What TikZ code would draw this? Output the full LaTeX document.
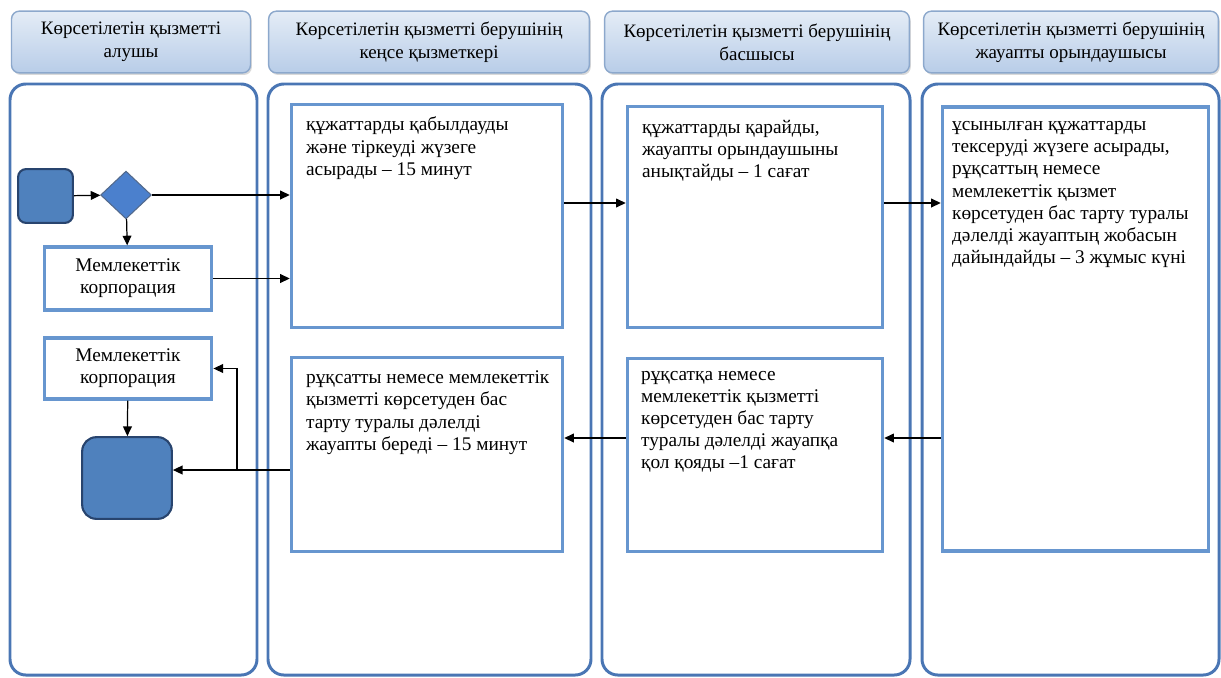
\documentclass[tikz,border=0pt]{standalone}
\usepackage{fontspec}
\setmainfont{Liberation Serif}
\usetikzlibrary{arrows.meta,shapes.geometric,shadows}

\definecolor{lanecol}{RGB}{74,118,180}
\definecolor{boxcol}{RGB}{103,150,207}
\definecolor{hdrtop}{RGB}{228,236,246}
\definecolor{hdrbot}{RGB}{184,205,232}
\definecolor{hdrline}{RGB}{140,168,204}
\definecolor{termfill}{RGB}{79,129,189}
\definecolor{termline}{RGB}{40,68,110}
\definecolor{gatefill}{RGB}{75,128,205}

\newcommand\pxu{0.5669pt}

\tikzset{
    sz/.style 2 args={minimum width=#1*\pxu,minimum height=#2*\pxu},
    hdr/.style={draw=hdrline,line width=.8pt,rounded corners=4.5pt,
        top color=hdrtop,bottom color=hdrbot,align=center,inner sep=0pt,
        font=\fontsize{10.8}{13}\selectfont,
        drop shadow={shadow xshift=.8pt,shadow yshift=-1.2pt,opacity=.3}},
    lane/.style={draw=lanecol,line width=1.7pt,rounded corners=9pt},
    procbox/.style={draw=boxcol,line width=2pt,fill=white,inner sep=0pt,align=center},
    proctext/.style={anchor=north west,align=left,inner sep=0pt},
    term/.style={draw=termline,line width=1.2pt,fill=termfill,inner sep=0pt},
    gate/.style={diamond,aspect=1.06,draw=termline!80,line width=.6pt,
        fill=gatefill,inner sep=0pt},
    flow/.style={-{Triangle[length=5.5pt,width=5pt]},line width=.7pt,black},
}

\begin{document}
\begin{tikzpicture}[x=0.02cm,y=-0.02cm,font=\fontsize{11}{12.6}\selectfont]
    \useasboundingbox (0,0) rectangle (1221,677);

    % headers
    \node[hdr,sz={240}{62}] (h1) at (131,42) {Көрсетілетін қызметті\\алушы};
    \node[hdr,sz={322}{62}] (h2) at (429,42) {Көрсетілетін қызметті берушінің\\кеңсе қызметкері};
    \node[hdr,sz={306}{62}] (h3) at (757,42) {Көрсетілетін қызметті берушінің\\басшысы};
    \node[hdr,sz={296}{62}] (h4) at (1071,42) {Көрсетілетін қызметті берушінің\\жауапты орындаушысы};

    % lanes
    \draw[lane] (10,84) rectangle (257,675);
    \draw[lane] (268,84) rectangle (591,675);
    \draw[lane] (602,84) rectangle (910,675);
    \draw[lane] (922,84) rectangle (1219,675);

    % left lane
    \node[term,rounded corners=4.5pt,sz={55}{54}] (start) at (45.5,196) {};
    \node[gate,sz={51}{48}] (gate) at (126,195) {};
    \node[procbox,sz={168}{63}] (mk1) at (128,278.5) {Мемлекеттік\\корпорация};
    \node[procbox,sz={168}{61}] (mk2) at (128,368.5) {Мемлекеттік\\корпорация};
    \node[term,rounded corners=8pt,sz={90}{82}] (finish) at (127,478) {};

    % process boxes
    \node[procbox,sz={272}{224}] (b1) at (427,216) {};
    \node[procbox,sz={256}{222}] (b2) at (755,217) {};
    \node[procbox,sz={267}{446}] (b3) at (1075.5,329) {};
    \node[procbox,sz={256}{194}] (b4) at (755,455) {};
    \node[procbox,sz={272}{195}] (b5) at (427,454.5) {};

    \node[proctext] (t1) at ([shift={(16,14)}]b1.north west)
        {құжаттарды қабылдауды\\және тіркеуді жүзеге\\асырады – 15 минут};
    \node[proctext] (t2) at ([shift={(16,15)}]b2.north west)
        {құжаттарды қарайды,\\жауапты орындаушыны\\анықтайды – 1 сағат};
    \node[proctext] (t3) at ([shift={(11,16)}]b3.north west)
        {ұсынылған құжаттарды\\тексеруді жүзеге асырады,\\рұқсаттың немесе\\мемлекеттік қызмет\\көрсетуден бас тарту туралы\\дәлелді жауаптың жобасын\\дайындайды – 3 жұмыс күні};
    \node[proctext] (t4) at ([shift={(15,14)}]b4.north west)
        {рұқсатқа немесе\\мемлекеттік қызметті\\көрсетуден бас тарту\\туралы дәлелді жауапқа\\қол қояды –1 сағат};
    \node[proctext] (t5) at ([shift={(16,15)}]b5.north west)
        {рұқсатты немесе мемлекеттік\\қызметті көрсетуден бас\\тарту туралы дәлелді\\жауапты береді – 15 минут};

    % connector levels
    \coordinate (up) at (0,203);
    \coordinate (down) at (0,438);
    \coordinate (back) at (0,470);
    \coordinate (split) at (237,470);

    \draw[flow] (start) -- (gate);
    \draw[flow] (gate.east) -- (gate.east -| b1.west);
    \draw[flow] (gate) -- (mk1);
    \draw[flow] (mk1.east) -- (mk1.east -| b1.west);
    \draw[flow] (b1.east |- up) -- (b2.west |- up);
    \draw[flow] (b2.east |- up) -- (b3.west |- up);
    \draw[flow] (b3.west |- down) -- (b4.east |- down);
    \draw[flow] (b4.west |- down) -- (b5.east |- down);
    \draw[flow] (b5.west |- back) -- (finish.east |- back);
    \draw[flow] (split) |- (mk2.east);
    \draw[flow] (mk2) -- (finish);
\end{tikzpicture}
\end{document}
